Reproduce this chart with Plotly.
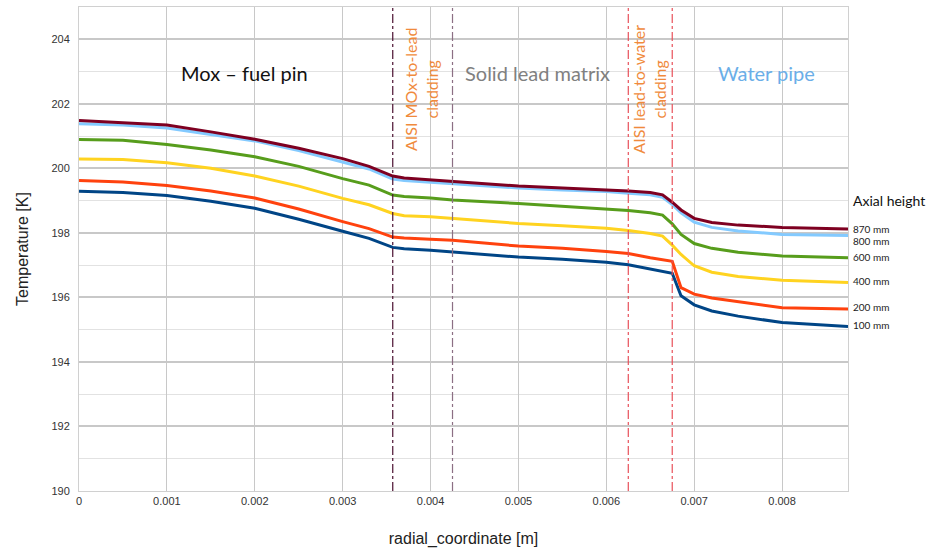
import plotly.graph_objects as go

# ---- data ----
radial = [0, 0.0005, 0.001, 0.0015, 0.002, 0.0025, 0.003, 0.0033, 0.00357, 0.0037,
          0.004, 0.00425, 0.005, 0.0055, 0.006, 0.00625, 0.0065, 0.00664, 0.00675,
          0.00685, 0.007, 0.0072, 0.0075, 0.008, 0.00875]

t_100 = [199.29, 199.25, 199.16, 198.98, 198.76, 198.42, 198.05, 197.83, 197.55, 197.51,
         197.46, 197.41, 197.25, 197.18, 197.09, 197.01, 196.89, 196.81, 196.75,
         196.05, 195.77, 195.58, 195.42, 195.22, 195.10]
t_200 = [199.62, 199.58, 199.47, 199.30, 199.08, 198.74, 198.35, 198.13, 197.87, 197.84,
         197.80, 197.77, 197.59, 197.52, 197.42, 197.36, 197.23, 197.18, 197.12,
         196.30, 196.10, 195.98, 195.86, 195.68, 195.64]
t_400 = [200.29, 200.27, 200.17, 200.00, 199.76, 199.45, 199.07, 198.87, 198.60, 198.53,
         198.50, 198.45, 198.29, 198.22, 198.14, 198.07, 197.98, 197.90, 197.62,
         197.33, 196.98, 196.78, 196.65, 196.53, 196.46]
t_600 = [200.89, 200.87, 200.74, 200.57, 200.36, 200.06, 199.68, 199.48, 199.17, 199.13,
         199.08, 199.02, 198.91, 198.82, 198.74, 198.69, 198.62, 198.55, 198.28,
         197.95, 197.67, 197.52, 197.40, 197.28, 197.23]
t_800 = [201.38, 201.34, 201.25, 201.06, 200.85, 200.55, 200.19, 199.98, 199.67, 199.62,
         199.57, 199.52, 199.39, 199.33, 199.28, 199.23, 199.18, 199.10, 198.88,
         198.62, 198.33, 198.17, 198.06, 197.95, 197.92]
t_870 = [201.48, 201.42, 201.34, 201.13, 200.90, 200.62, 200.30, 200.06, 199.76, 199.70,
         199.64, 199.58, 199.45, 199.39, 199.34, 199.30, 199.25, 199.18, 198.95,
         198.71, 198.45, 198.32, 198.24, 198.17, 198.12]

heights = ["100 mm", "200 mm", "400 mm", "600 mm", "800 mm", "870 mm"]
series = [t_100, t_200, t_400, t_600, t_800, t_870]
colors = ["#004586", "#ff420e", "#ffd320", "#579d1c", "#83caff", "#7e0021"]
label_y = [195.15, 195.7, 196.5, 197.25, 197.75, 198.12]

boundaries = [0.00357, 0.00425, 0.00625, 0.00675]
boundary_colors = ["#4a1030", "#8c6f84", "#e8505a", "#e8505a"]

y_ticks = [190, 192, 194, 196, 198, 200, 202, 204]
x_ticks = [0, 0.001, 0.002, 0.003, 0.004, 0.005, 0.006, 0.007, 0.008]
x_tick_text = ["0", "0.001", "0.002", "0.003", "0.004", "0.005", "0.006", "0.007", "0.008"]

fig = go.Figure()
for name, vals, col in zip(heights, series, colors):
    fig.add_trace(go.Scatter(x=radial, y=vals, mode="lines", name=name,
                             line=dict(color=col, width=3), showlegend=False))

for b, c in zip(boundaries, boundary_colors):
    fig.add_shape(type="line", xref="x", yref="paper", x0=b, x1=b, y0=0, y1=1,
                  line=dict(color=c, width=1.2, dash="dashdot"), layer="above")

ann_font = "Lato, Open Sans, sans-serif"
fig.add_annotation(x=0.00188, y=202.95, xref="x", yref="y", text="Mox \u2013 fuel pin",
                   showarrow=False, font=dict(family=ann_font, size=20, color="#111111"))
fig.add_annotation(x=0.00522, y=202.95, xref="x", yref="y", text="Solid lead matrix",
                   showarrow=False, font=dict(family=ann_font, size=20, color="#808080"))
fig.add_annotation(x=0.00782, y=202.95, xref="x", yref="y", text="Water pipe",
                   showarrow=False, font=dict(family=ann_font, size=20, color="#6aaee8"))
fig.add_annotation(x=0.0039, y=202.45, xref="x", yref="y",
                   text="AISI MOx-to-lead<br>cladding", textangle=-90, align="center",
                   showarrow=False, font=dict(family=ann_font, size=16, color="#f08a3c"))
fig.add_annotation(x=0.00649, y=202.45, xref="x", yref="y",
                   text="AISI lead-to-water<br>cladding", textangle=-90, align="center",
                   showarrow=False, font=dict(family=ann_font, size=16, color="#f08a3c"))
fig.add_annotation(x=1.0, y=199.0, xref="paper", yref="y", text="Axial height",
                   xanchor="left", xshift=3, showarrow=False,
                   font=dict(family=ann_font, size=14, color="#111111"))
for name, ly in zip(heights, label_y):
    fig.add_annotation(x=1.0, y=ly, xref="paper", yref="y", text=name,
                       xanchor="left", xshift=3, showarrow=False,
                       font=dict(family=ann_font, size=10, color="#222222"))

tick_font = dict(family="Liberation Sans Narrow, Liberation Sans, sans-serif", size=11, color="#333333")
fig.update_layout(
    width=935, height=553,
    margin=dict(l=79, r=87, t=7, b=62),
    plot_bgcolor="white", paper_bgcolor="white",
    xaxis=dict(range=[0, 0.00875], tickvals=x_ticks, ticktext=x_tick_text,
               showgrid=True, gridcolor="#c8c8c8", gridwidth=1, zeroline=False,
               showline=True, linecolor="#d0d0d0", mirror=True, ticks="",
               tickfont=tick_font, automargin=False,
               title=dict(text="radial_coordinate [m]", standoff=26,
                          font=dict(family="Liberation Sans, sans-serif", size=16, color="#222222"))),
    yaxis=dict(range=[190, 205], tickvals=y_ticks,
               showgrid=True, gridcolor="#c8c8c8", gridwidth=1.5, zeroline=False,
               minor=dict(dtick=1, showgrid=True, gridcolor="#e2e2e2", gridwidth=1),
               showline=True, linecolor="#d0d0d0", mirror=True, ticks="",
               tickfont=tick_font, ticklabelstandoff=6, automargin=False,
               title=dict(text="Temperature [K]", standoff=18,
                          font=dict(family="Liberation Sans, sans-serif", size=16, color="#222222"))),
)

fig.write_html("out.html", config={"displayModeBar": False})
with open("out.html", "r", encoding="utf-8") as f:
    html = f.read()
html = html.replace("<body>", '<body style="margin:0;padding:0;overflow:hidden">', 1)
with open("out.html", "w", encoding="utf-8") as f:
    f.write(html)
